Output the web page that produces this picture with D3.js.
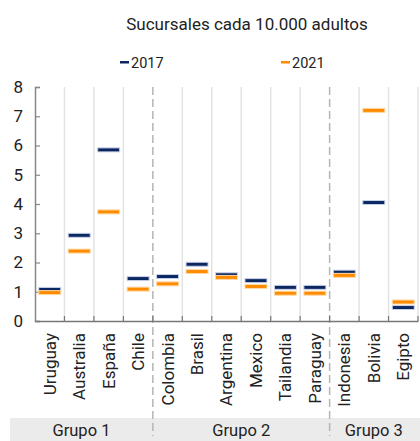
<!DOCTYPE html>
<html><head><meta charset="utf-8">
<script src="https://cdn.jsdelivr.net/npm/d3@7/dist/d3.min.js"></script>
<style>body{margin:0;background:#fff}svg{display:block;font-family:Roboto,sans-serif}</style>
</head><body><svg id="c" width="420" height="441"></svg>
<script>
const categories = ["Uruguay","Australia","España","Chile","Colombia","Brasil","Argentina","Mexico","Tailandia","Paraguay","Indonesia","Bolivia","Egipto"];
const groups = ["Grupo 1","Grupo 1","Grupo 1","Grupo 1","Grupo 2","Grupo 2","Grupo 2","Grupo 2","Grupo 2","Grupo 2","Grupo 3","Grupo 3","Grupo 3"];
const values2017 = [1.08,2.93,5.85,1.45,1.52,1.94,1.58,1.38,1.15,1.15,1.67,4.05,0.46];
const values2021 = [0.97,2.39,3.73,1.09,1.27,1.69,1.49,1.18,0.95,0.95,1.56,7.2,0.65];
const seriesNames = ["2017","2021"];
const seriesColors = ["#0b2762","#ff8c00"];
const yTicks = [0,1,2,3,4,5,6,7,8];

const svg = d3.select("#c");
const L = 35, R = 418, T = 87, B = 321;
const x = d3.scaleBand().domain(categories).range([L, R]);
const y = d3.scaleLinear().domain([0, 8]).range([B, T]);

// group band background
svg.append("rect").attr("x", 10).attr("y", 418).attr("width", 410).attr("height", 23).attr("fill", "#ebebeb");

// vertical gridlines
categories.forEach((c, i) => {
  if (i === 0) return;
  const gx = x(c);
  const boundary = groups[i] !== groups[i-1];
  if (boundary) {
    svg.append("line").attr("x1", gx).attr("x2", gx).attr("y1", T).attr("y2", 436)
      .attr("stroke", "#b5b5b5").attr("stroke-width", 1.5).attr("stroke-dasharray", "8,4");
  } else {
    svg.append("line").attr("x1", gx).attr("x2", gx).attr("y1", T).attr("y2", B)
      .attr("stroke", "#e3e3e3").attr("stroke-width", 1.5);
  }
});
svg.append("line").attr("x1", R).attr("x2", R).attr("y1", T).attr("y2", B).attr("stroke", "#e3e3e3").attr("stroke-width", 1.5);

// axes
const yAxis = svg.append("g").attr("transform", `translate(${L},0)`)
  .call(d3.axisLeft(y).tickValues(yTicks).tickSize(-5).tickPadding(12));
yAxis.select(".domain").attr("stroke", "#888").attr("stroke-width", 1.5);
yAxis.selectAll(".tick line").attr("stroke", "#888").attr("stroke-width", 1.2);
yAxis.selectAll("text").attr("font-size", 17).attr("fill", "#222").attr("font-family", "Roboto");

const xAxis = svg.append("g").attr("transform", `translate(0,${B})`)
  .call(d3.axisBottom(x).tickSize(0).tickPadding(0));
xAxis.select(".domain").attr("stroke", "#777").attr("stroke-width", 1.5);
xAxis.selectAll(".tick text").attr("font-size", 17).attr("fill", "#222").attr("font-family", "Roboto")
  .attr("transform", "rotate(-90)").attr("text-anchor", "end").attr("dx", "-12").attr("dy", "0.35em").attr("x", 0).attr("y", 0);
// inward ticks at band boundaries
categories.forEach((c, i) => {
  if (i === 0) return;
  svg.append("line").attr("x1", x(c)).attr("x2", x(c)).attr("y1", B).attr("y2", B - 5).attr("stroke", "#777").attr("stroke-width", 1.2);
});
svg.append("line").attr("x1", R).attr("x2", R).attr("y1", B).attr("y2", B - 5).attr("stroke", "#777").attr("stroke-width", 1.2);

// marks
const mw = 22, mh = 4;
[values2017, values2021].forEach((vals, s) => {
  svg.append("g").selectAll("rect").data(vals).join("rect")
    .attr("x", (d, i) => x(categories[i]) + x.bandwidth() / 2 - mw / 2)
    .attr("y", d => y(d) - mh / 2)
    .attr("width", mw).attr("height", mh)
    .attr("fill", seriesColors[s])
    .attr("stroke", s === 0 ? "#c9d2e6" : "#ffd9a8").attr("stroke-width", 1);
});

// group labels
const gNames = Array.from(new Set(groups));
gNames.forEach(g => {
  const idx = groups.map((v, i) => v === g ? i : -1).filter(i => i >= 0);
  const x0 = x(categories[idx[0]]), x1 = x(categories[idx[idx.length - 1]]) + x.bandwidth();
  const cx = g === "Grupo 1" ? (10 + x1) / 2 : (x0 + x1) / 2;
  svg.append("text").attr("x", cx).attr("y", 436).attr("text-anchor", "middle")
    .attr("font-size", 16.5).attr("fill", "#222").text(g);
});

// title
svg.append("text").attr("x", 247).attr("y", 30).attr("text-anchor", "middle")
  .attr("font-size", 17).attr("fill", "#222").text("Sucursales cada 10.000 adultos");

// legend
const legX = [120, 281];
seriesNames.forEach((n, i) => {
  svg.append("rect").attr("x", legX[i]).attr("y", 61).attr("width", 9).attr("height", 2.5).attr("fill", seriesColors[i]);
  svg.append("text").attr("x", legX[i] + 11).attr("y", 67.5).attr("font-size", 14.5).attr("fill", "#222").text(n);
});
</script></body></html>
